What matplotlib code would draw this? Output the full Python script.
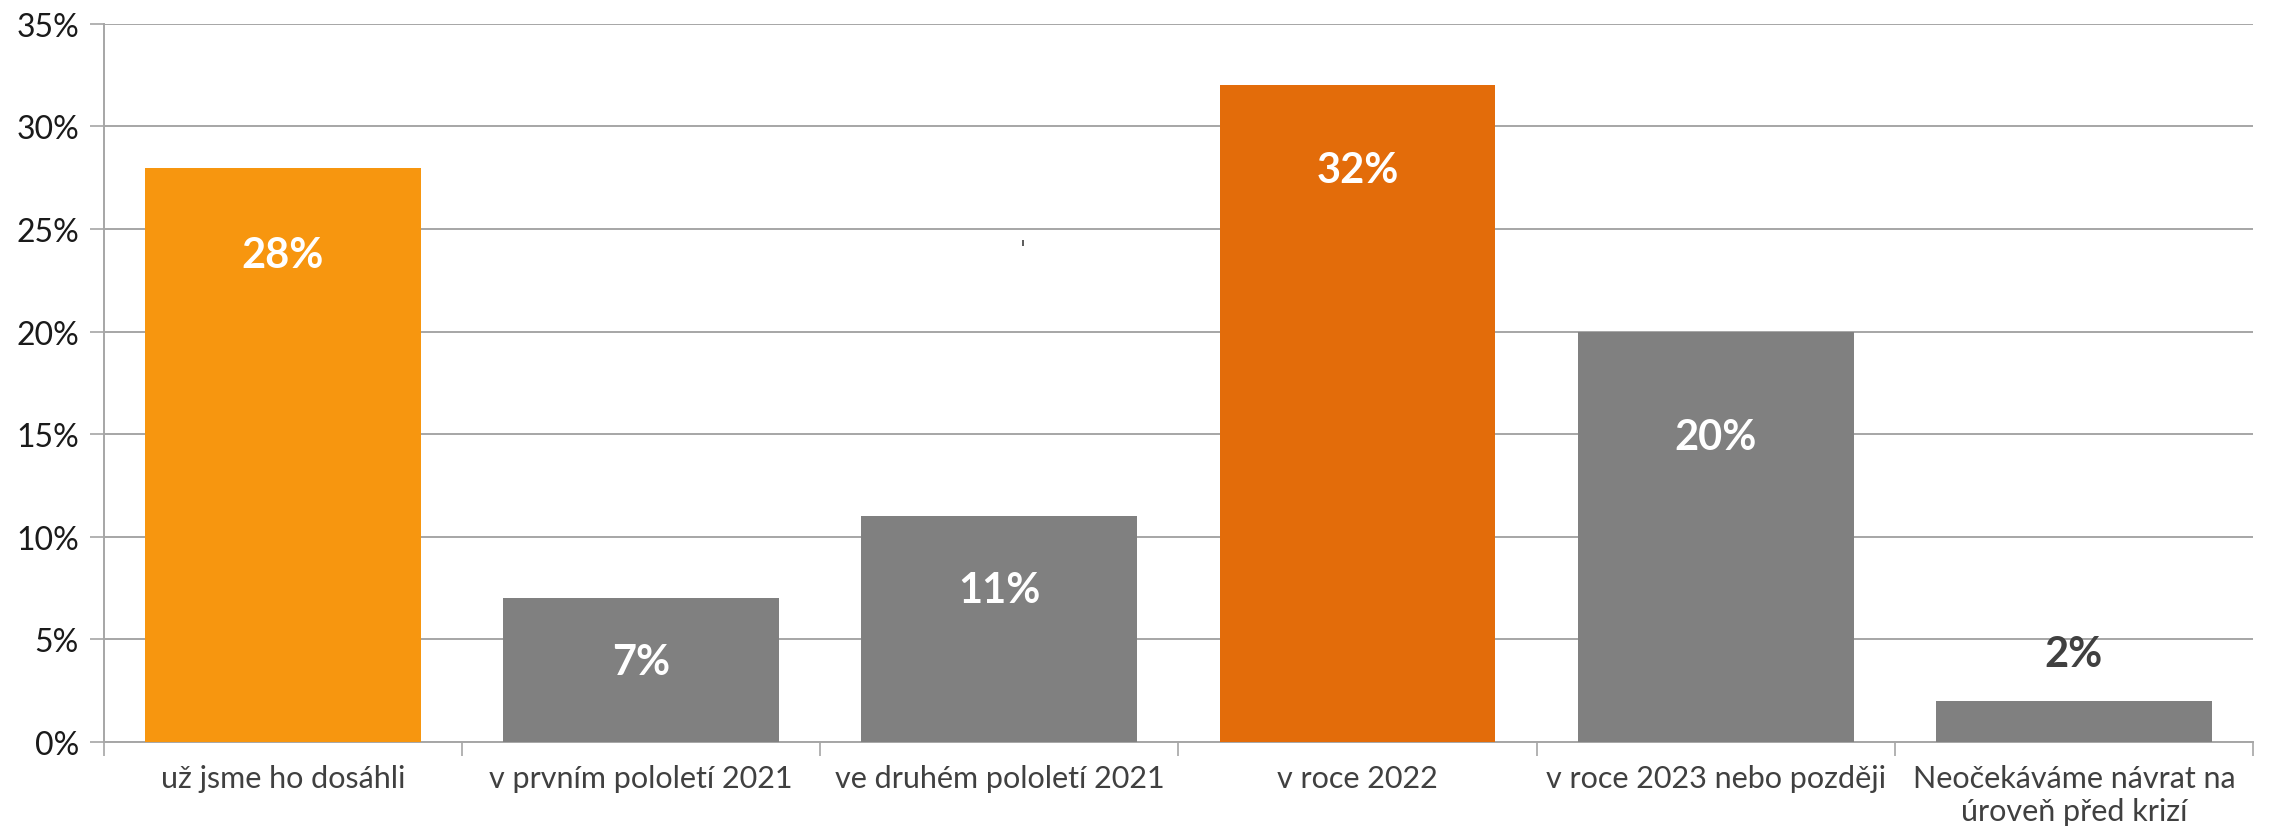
import numpy as np
import matplotlib
matplotlib.use("Agg")
import matplotlib.pyplot as plt
from matplotlib.ticker import FixedLocator, PercentFormatter

categories = [
    "už jsme ho dosáhli",
    "v prvním pololetí 2021",
    "ve druhém pololetí 2021",
    "v roce 2022",
    "v roce 2023 nebo později",
    "Neočekáváme návrat na\núroveň před krizí",
]
values = [28, 7, 11, 32, 20, 2]
bar_colors = ["#F7960F", "#808080", "#808080", "#E36C0A", "#808080", "#808080"]
# how far below the bar top each label sits (points); negative = above
label_drop = [63, 46, 53, 61, 76, -34]

plt.rcParams["font.family"] = ["Lato", "DejaVu Sans"]

fig = plt.figure(figsize=(22.7, 8.29), dpi=100)
ax = fig.add_axes([0.0458, 0.1037, 0.9467, 0.8663])

x = np.arange(len(categories))
bars = ax.bar(x, values, width=0.77, color=bar_colors, zorder=3)

for i, (b, v) in enumerate(zip(bars, values)):
    inside = label_drop[i] > 0
    ax.annotate(f"{v}%", (b.get_x() + b.get_width() / 2, v),
                xytext=(0, -label_drop[i]), textcoords="offset points",
                ha="center", va="center", fontsize=30, fontweight="bold",
                color="white" if inside else "#404040", zorder=4)

# small stray mark present in the original
ax.plot([2.067], [24.3], marker="|", markersize=5, color="#404040",
        markeredgewidth=1.2, zorder=4)

ax.set_xlim(-0.5, len(categories) - 0.5)
ax.set_ylim(0, 35)
ax.yaxis.set_major_locator(FixedLocator(range(0, 36, 5)))
ax.yaxis.set_major_formatter(PercentFormatter(decimals=0))
ax.yaxis.grid(True, color="#A6A6A6", linewidth=1.4, zorder=0)

ax.set_xticks(x)
ax.set_xticklabels(categories, fontsize=22, color="#404040", linespacing=1.2)
ax.xaxis.set_minor_locator(FixedLocator(np.arange(-0.5, len(categories), 1)))
ax.tick_params(axis="x", which="major", length=0, pad=16)
ax.tick_params(axis="x", which="minor", length=10, width=1.2, color="#A6A6A6")
ax.tick_params(axis="y", length=10, width=1.2, color="#A6A6A6",
               labelsize=23, labelcolor="#1a1a1a", pad=8)

for s in ["top", "right"]:
    ax.spines[s].set_visible(False)
for s in ["left", "bottom"]:
    ax.spines[s].set_color("#A6A6A6")
    ax.spines[s].set_linewidth(1.4)

fig.savefig("out.png", dpi=100)
